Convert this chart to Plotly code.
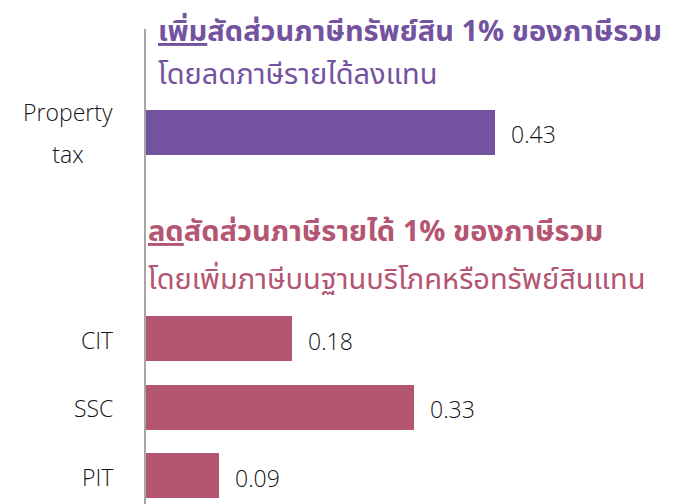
import plotly.graph_objects as go

categories = ["Property<br>tax", "CIT", "SSC", "PIT"]
positions = [0, 3, 4, 5]
values = [0.43, 0.18, 0.33, 0.09]
value_labels = ["0.43", "0.18", "0.33", "0.09"]
bar_colors = ["#7352A0", "#B45571", "#B45571", "#B45571"]

title1_line1 = "<b><u>เพิ่ม</u>สัดส่วนภาษีทรัพย์สิน 1% ของภาษีรวม</b>"
title1_line2 = "โดยลดภาษีรายได้ลงแทน"
title2_line1 = "<b><u>ลด</u>สัดส่วนภาษีรายได้ 1% ของภาษีรวม</b>"
title2_line2 = "โดยเพิ่มภาษีบนฐานบริโภคหรือทรัพย์สินแทน"

W, H = 673, 504
MT, MB = 29, 0
PH = H - MT - MB

def py(px):
    return 1 - (px - MT) / PH

LATIN = "Segoe UI, Open Sans, Noto Sans, sans-serif"
THAI = "Tahoma, Noto Sans Thai, Loma, Garuda, Noto Sans, sans-serif"
LABEL_FONT = dict(family=LATIN, size=23, color="#141414", weight=300)

fig = go.Figure()
fig.add_trace(go.Bar(
    x=values, y=positions, orientation="h",
    marker=dict(color=bar_colors, line=dict(width=0)),
    width=0.655, hoverinfo="skip",
))

ann = []
for cat, pos in zip(categories, positions):
    lines = cat.split("<br>")
    n = len(lines)
    for i, line in enumerate(lines):
        shift = (i - (n - 1) / 2) * -42
        ann.append(dict(x=0, xref="paper", y=pos, yref="y", text=line,
                        xanchor="right", yanchor="middle", align="center",
                        width=98 if n > 1 else None,
                        xshift=-27 if n > 1 else -31,
                        yshift=shift - 1, showarrow=False,
                        font=LABEL_FONT))
for v, lab, pos in zip(values, value_labels, positions):
    ann.append(dict(x=v, xref="x", y=pos, yref="y", text=lab,
                    xanchor="left", yanchor="middle", xshift=14, yshift=-2,
                    showarrow=False, font=LABEL_FONT))

purple = "#7352A0"
pink = "#B45571"
for txt, x, ypx, col in [
    (title1_line1, 156, 32, purple),
    (title1_line2, 156, 75, purple),
    (title2_line1, 146, 232, pink),
    (title2_line2, 146, 280, pink),
]:
    ann.append(dict(x=(x - 146) / (W - 146), xref="paper", y=py(ypx), yref="paper",
                    text=txt, xanchor="left", yanchor="middle", showarrow=False,
                    font=dict(family=THAI, size=29, color=col)))

fig.update_layout(
    width=W, height=H,
    margin=dict(l=146, r=0, t=MT, b=MB),
    plot_bgcolor="white", paper_bgcolor="white",
    showlegend=False,
    annotations=ann,
    bargap=0,
)
fig.update_xaxes(range=[0, 0.65], visible=False, showgrid=False, zeroline=False)
fig.update_yaxes(range=[5.41, -1.507], showgrid=False, zeroline=False,
                 showticklabels=False, ticks="",
                 showline=True, linecolor="#A6A6A6", linewidth=2)

fig.write_html("out.html", config={"displayModeBar": False},
               post_script="document.body.style.margin='0';document.body.style.overflow='hidden';")
